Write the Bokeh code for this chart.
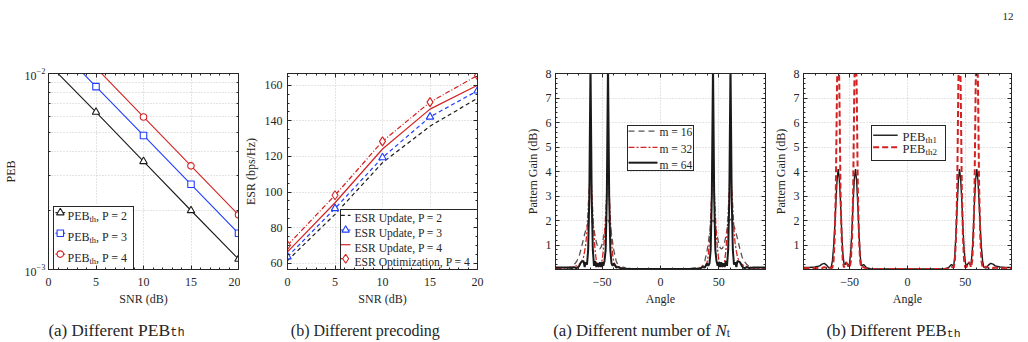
from bokeh.plotting import figure
from bokeh.layouts import row, column
from bokeh.models import (FixedTicker, CustomJSTickFormatter, Label, LinearAxis, LogAxis,
                          Legend, LegendItem)
from bokeh.embed import file_html
from bokeh.resources import INLINE

# ---------------- data ----------------
snr_db = [0, 5, 10, 15, 20]

# positioning error bound vs SNR
peb_p2 = [1.12e-2, 6.35e-3, 3.56e-3, 2.00e-3, 1.13e-3]
peb_p3 = [1.52e-2, 8.57e-3, 4.83e-3, 2.72e-3, 1.53e-3]
peb_p4 = [1.90e-2, 1.07e-2, 6.00e-3, 3.38e-3, 1.90e-3]

# effective sum rate vs SNR
esr_update_p2 = [61.5, 87.5, 116.5, 137.0, 152.7]
esr_update_p3 = [63.7, 90.8, 119.4, 142.2, 156.9]
esr_update_p4 = [66.4, 94.0, 124.2, 146.6, 160.0]
esr_opt_p4 = [70.1, 98.2, 128.5, 150.5, 165.5]

# beam pattern samples
angle_deg = [-90, -85, -80, -76, -74, -72, -70, -68, -66,
             -65, -64, -63, -62, -61, -60, -59, -58, -57, -56,
             -55, -54, -53, -52, -51, -50, -49, -48, -47, -46,
             -45, -44, -43, -42, -41, -40,
             -38, -36, -34, -32, -30, -25, -20, -10, 0,
             10, 20, 25, 30, 32, 34, 36, 38,
             40, 41, 42, 43, 44, 45,
             46, 47, 48, 49, 50, 51, 52, 53, 54, 55,
             56, 57, 58, 59, 60, 61, 62, 63, 64, 65,
             66, 68, 70, 72, 74, 76, 80, 85, 90]

gain_m16 = [0.05, 0.05, 0.08, 0.12, 0.2, 0.32, 0.5, 0.85, 1.25,
            1.45, 1.62, 1.78, 1.92, 2.02, 2.05, 2.0, 1.85, 1.62, 1.35,
            1.12, 0.95, 0.86, 0.84, 0.9, 1.05, 1.28, 1.55, 1.78, 1.95,
            2.02, 1.95, 1.75, 1.45, 1.1, 0.78,
            0.35, 0.12, 0.06, 0.1, 0.07, 0.03, 0.02, 0.02, 0.02,
            0.02, 0.02, 0.03, 0.07, 0.1, 0.06, 0.12, 0.35,
            0.78, 1.1, 1.45, 1.75, 1.95, 2.02,
            1.95, 1.78, 1.55, 1.28, 1.05, 0.9, 0.84, 0.86, 0.95, 1.12,
            1.35, 1.62, 1.85, 2.0, 2.05, 2.02, 1.92, 1.78, 1.62, 1.45,
            1.25, 0.85, 0.5, 0.32, 0.2, 0.12, 0.08, 0.05, 0.05]

gain_m32 = [0.05, 0.05, 0.06, 0.1, 0.12, 0.15, 0.2, 0.3, 0.5,
            0.75, 1.05, 1.6, 2.5, 3.4, 4.05, 3.3, 2.3, 1.4, 0.75,
            0.35, 0.18, 0.1, 0.15, 0.22, 0.4, 0.75, 1.35, 2.25, 3.3,
            4.05, 3.2, 2.1, 1.2, 0.6, 0.3,
            0.12, 0.15, 0.06, 0.05, 0.03, 0.02, 0.02, 0.02, 0.02,
            0.02, 0.02, 0.02, 0.03, 0.05, 0.06, 0.15, 0.12,
            0.3, 0.6, 1.2, 2.1, 3.2, 4.05,
            3.3, 2.25, 1.35, 0.75, 0.4, 0.22, 0.15, 0.1, 0.18, 0.35,
            0.75, 1.4, 2.3, 3.3, 4.05, 3.4, 2.5, 1.6, 1.05, 0.75,
            0.5, 0.3, 0.2, 0.15, 0.12, 0.1, 0.06, 0.05, 0.05]

gain_m64 = [0.08, 0.08, 0.08, 0.06, 0.1, 0.05, 0.12, 0.3, 0.35,
            0.1, 0.3, 0.2, 0.8, 3.0, 8.4, 3.0, 0.8, 0.15, 0.35,
            0.1, 0.25, 0.12, 0.3, 0.1, 0.3, 0.15, 0.35, 0.8, 3.0,
            8.4, 3.0, 0.8, 0.25, 0.15, 0.25,
            0.08, 0.1, 0.04, 0.03, 0.03, 0.02, 0.02, 0.02, 0.02,
            0.02, 0.02, 0.02, 0.03, 0.03, 0.04, 0.1, 0.08,
            0.25, 0.15, 0.25, 0.8, 3.0, 8.4,
            3.0, 0.8, 0.35, 0.15, 0.3, 0.1, 0.3, 0.12, 0.25, 0.1,
            0.35, 0.15, 0.8, 3.0, 8.4, 3.0, 0.8, 0.2, 0.3, 0.1,
            0.35, 0.3, 0.12, 0.05, 0.1, 0.06, 0.08, 0.08, 0.08]

gain_peb_th1 = [0.08, 0.08, 0.1, 0.15, 0.22, 0.25, 0.18, 0.06, 0.1,
                0.35, 0.9, 1.7, 2.7, 3.6, 4.1, 3.7, 2.8, 1.6, 0.7,
                0.25, 0.2, 0.28, 0.22, 0.12, 0.3, 0.8, 1.7, 2.8, 3.7,
                4.1, 3.6, 2.6, 1.5, 0.6, 0.15,
                0.2, 0.1, 0.05, 0.03, 0.02, 0.02, 0.02, 0.02, 0.02,
                0.02, 0.02, 0.02, 0.02, 0.03, 0.05, 0.1, 0.2,
                0.15, 0.6, 1.5, 2.6, 3.6, 4.1,
                3.7, 2.8, 1.7, 0.8, 0.3, 0.12, 0.22, 0.28, 0.2, 0.25,
                0.7, 1.6, 2.8, 3.7, 4.1, 3.6, 2.7, 1.7, 0.9, 0.35,
                0.1, 0.06, 0.18, 0.25, 0.22, 0.15, 0.1, 0.08, 0.08]

gain_peb_th2 = [0.05, 0.06, 0.05, 0.08, 0.06, 0.1, 0.06, 0.12, 0.05,
                0.08, 0.35, 1.3, 3.3, 7.5, 10.0, 7.5, 3.3, 1.3, 0.35,
                0.08, 0.25, 0.3, 0.2, 0.1, 0.08, 0.35, 1.3, 3.3, 7.5,
                10.0, 7.5, 3.3, 1.3, 0.35, 0.08,
                0.1, 0.05, 0.03, 0.02, 0.02, 0.02, 0.02, 0.02, 0.02,
                0.02, 0.02, 0.02, 0.02, 0.02, 0.03, 0.05, 0.1,
                0.08, 0.35, 1.3, 3.3, 7.5, 10.0,
                7.5, 3.3, 1.3, 0.35, 0.08, 0.1, 0.2, 0.3, 0.25, 0.08,
                0.35, 1.3, 3.3, 7.5, 10.0, 7.5, 3.3, 1.3, 0.35, 0.08,
                0.05, 0.12, 0.06, 0.1, 0.06, 0.08, 0.05, 0.06, 0.05]

# ---------------- style ----------------
SERIF = "Liberation Serif"
MONO = "Liberation Mono"
INK = "#262626"
GRID = "#c8c8c8"
BLACK = "#1a1a1a"
BLUE = "#1f3cff"
RED = "#d42222"
GRAY = "#555555"
FS = "12px"

PAGE_W = 1028
TOP_H = 30          # strip holding the page number
CAP_H = 34          # strip holding the sub-captions
PANEL_H = 342 - TOP_H - CAP_H
BORDER_TOP = 43
FRAME_H = 200
BORDER_BOTTOM = PANEL_H - BORDER_TOP - FRAME_H

# Times advance widths (1/1000 em) for laying out mixed-size text
ADV = {' ': 250, '(': 333, ')': 333, ',': 250, '=': 564, '-': 333,
       '0': 500, '1': 500, '2': 500, '3': 500, '4': 500, '6': 500,
       'a': 444, 'b': 500, 'c': 444, 'd': 500, 'e': 444, 'f': 333, 'g': 500,
       'h': 500, 'i': 278, 'm': 778, 'n': 500, 'o': 500, 'p': 500, 'r': 333,
       't': 278, 'u': 500, 'B': 667, 'D': 722, 'E': 611, 'N': 722, 'P': 556}


def text_width(s, size, font=SERIF, style="normal"):
    if font == MONO:
        return 0.6 * size * len(s)
    total = 0
    for ch in s:
        w = ADV.get(ch, 500)
        if style == "italic" and ch == "N":
            w = 667
        total += w
    return total * size / 1000.0


def rich_text(p, x, y, parts, center=False):
    """Place a run of text pieces (text, size, font, style, dy) along one baseline."""
    widths = [text_width(t, s, f, st) for t, s, f, st, dy in parts]
    if center:
        x -= sum(widths) / 2.0
    for (t, s, f, st, dy), w in zip(parts, widths):
        p.add_layout(Label(x=x, y=y + dy, x_units="screen", y_units="screen", text=t,
                           text_font=f, text_font_size=f"{s}px", text_font_style=st,
                           text_color=INK, text_baseline="alphabetic", text_align="left",
                           level="overlay"))
        x += w


def legend_box(p, fx, fy, left, bottom, width, height):
    """Legend panel in frame pixels: white patch below the entries, framed outline."""
    xs = [fx(left), fx(left + width), fx(left + width), fx(left)]
    ys = [fy(bottom), fy(bottom), fy(bottom + height), fy(bottom + height)]
    p.patch(xs, ys, fill_color="white", fill_alpha=1.0, line_color=None)
    holder = p.line(x=[], y=[], line_alpha=0)
    frame = Legend(items=[LegendItem(label=" ", renderers=[holder])],
                   location=(left, bottom - 5), padding=0, spacing=0, margin=0,
                   glyph_width=width - 1, glyph_height=height - 1,
                   label_width=0, label_height=0, label_standoff=0,
                   label_text_font_size="1px",
                   border_line_color=INK, border_line_width=1, border_line_alpha=1.0,
                   background_fill_alpha=0.0)
    p.add_layout(frame)


def style_axis(ax, standoff, label_standoff):
    ax.major_tick_in = 4
    ax.major_tick_out = 0
    ax.minor_tick_in = 2
    ax.minor_tick_out = 0
    ax.axis_line_color = INK
    ax.major_tick_line_color = INK
    ax.minor_tick_line_color = INK
    ax.major_label_text_font = SERIF
    ax.major_label_text_font_size = FS
    ax.major_label_text_color = INK
    ax.major_label_standoff = standoff
    ax.axis_label_text_font = SERIF
    ax.axis_label_text_font_size = FS
    ax.axis_label_text_font_style = "normal"
    ax.axis_label_text_color = INK
    ax.axis_label_standoff = label_standoff


def box_axes(p, xticker, yticker, log_y=False):
    blank = CustomJSTickFormatter(code="return ''")
    top = LinearAxis(ticker=xticker, formatter=blank)
    right = (LogAxis if log_y else LinearAxis)(ticker=yticker, formatter=blank)
    for ax in (top, right):
        ax.major_tick_in = 4
        ax.major_tick_out = 0
        ax.minor_tick_in = 2
        ax.minor_tick_out = 0
        ax.major_label_standoff = 0
        ax.major_label_text_font_size = "0px"
        ax.axis_line_color = INK
        ax.major_tick_line_color = INK
        ax.minor_tick_line_color = INK
    p.add_layout(top, "above")
    p.add_layout(right, "right")


def make_fig(width, left, right, x_range, y_range, **kw):
    p = figure(width=width, height=PANEL_H, x_range=x_range, y_range=y_range,
               min_border_left=left, min_border_right=right,
               min_border_top=BORDER_TOP, min_border_bottom=BORDER_BOTTOM,
               output_backend="svg", toolbar_location=None, **kw)
    p.outline_line_color = INK
    p.background_fill_color = "white"
    p.border_fill_color = "white"
    p.grid.grid_line_color = GRID
    p.grid.grid_line_dash = "1 2"
    return p


def text_strip(height):
    s = figure(width=PAGE_W, height=height, x_range=(0, PAGE_W), y_range=(0, height),
               min_border=0, x_axis_location=None, y_axis_location=None,
               output_backend="svg", toolbar_location=None)
    s.outline_line_color = None
    s.grid.visible = False
    s.background_fill_color = "white"
    s.border_fill_color = "white"
    return s


# ================= (a) PEB vs SNR =================
W1, L1, R1 = 240, 45, 2
FW1 = W1 - L1 - R1
p1 = make_fig(W1, L1, R1, (0, 20), (1e-3, 1e-2), y_axis_type="log")
snr_ticker = FixedTicker(ticks=[0, 5, 10, 15, 20], minor_ticks=list(range(0, 21)))
peb_ticker = FixedTicker(ticks=[1e-3, 1e-2], minor_ticks=[k * 1e-3 for k in range(2, 10)])
p1.xaxis.ticker = snr_ticker
p1.xgrid.ticker = snr_ticker
p1.yaxis.ticker = peb_ticker
p1.ygrid.ticker = peb_ticker
p1.ygrid.minor_grid_line_color = GRID
p1.ygrid.minor_grid_line_dash = "1 2"
p1.xaxis.axis_label = "SNR (dB)"
p1.yaxis.axis_label = "PEB"
style_axis(p1.xaxis[0], 8, 3)
style_axis(p1.yaxis[0], 3, 4)
box_axes(p1, snr_ticker, peb_ticker, log_y=True)

peb_series = [(peb_p2, BLACK, "triangle", "2"),
              (peb_p3, BLUE, "square", "3"),
              (peb_p4, RED, "circle", "4")]
for vals, col, mk, _ in peb_series:
    p1.line(snr_db, vals, line_color=col, line_width=1.1)
    p1.scatter(snr_db, vals, marker=mk, size=6.5 if mk != "triangle" else 7.5,
               line_color=col, fill_color="white", line_width=1.1)


def x1(px):
    return px / FW1 * 20.0


def y1(py):
    return 10 ** (-3 + py / FRAME_H)


legend_box(p1, x1, y1, 5, 3, 80, 64)
for (vals, col, mk, pval), ry in zip(peb_series, (58.0, 37.0, 15.7)):
    p1.line([x1(7), x1(17)], [y1(ry), y1(ry)], line_color=col, line_width=1.1, level="overlay")
    p1.scatter([x1(12)], [y1(ry)], marker=mk, size=6.5 if mk != "triangle" else 7.5,
               line_color=col, fill_color="white", line_width=1.1, level="overlay")
    rich_text(p1, 19, ry - 4, [("PEB", 12, SERIF, "normal", 0),
                               ("th", 8.5, SERIF, "normal", -3),
                               (f", P = {pval}", 12, SERIF, "normal", 0)])

# ================= (b) ESR vs SNR =================
W2, L2, R2 = 268, 41, 31
FW2 = W2 - L2 - R2
ESR_LO, ESR_HI = 56.5, 166.6
p2 = make_fig(W2, L2, R2, (0, 20), (ESR_LO, ESR_HI))
esr_ticker = FixedTicker(ticks=[60, 80, 100, 120, 140, 160], minor_ticks=list(range(60, 166, 5)))
p2.xaxis.ticker = snr_ticker
p2.xgrid.ticker = snr_ticker
p2.yaxis.ticker = esr_ticker
p2.ygrid.ticker = esr_ticker
p2.xaxis.axis_label = "SNR (dB)"
p2.yaxis.axis_label = "ESR (bps/Hz)"
style_axis(p2.xaxis[0], 8, 3)
style_axis(p2.yaxis[0], 5, 4)
box_axes(p2, snr_ticker, esr_ticker)

esr_series = [(esr_update_p2, BLACK, "4 3", None, "ESR Update, P = 2"),
              (esr_update_p3, BLUE, "4 3", "triangle", "ESR Update, P = 3"),
              (esr_update_p4, RED, "solid", None, "ESR Update, P = 4"),
              (esr_opt_p4, RED, "5 2 1 2", "diamond", "ESR Optimization, P = 4")]
for vals, col, dash, mk, _ in esr_series:
    p2.line(snr_db, vals, line_color=col, line_width=1.2, line_dash=dash)
    if mk:
        p2.scatter(snr_db, vals, marker=mk, size=7.5 if mk == "triangle" else 9,
                   line_color=col, fill_color="white", line_width=1.1)


def x2(px):
    return px / FW2 * 20.0


def y2(py):
    return ESR_LO + py / FRAME_H * (ESR_HI - ESR_LO)


legend_box(p2, x2, y2, 53, 4, 140, 60)
for (vals, col, dash, mk, lab), ry in zip(esr_series, (55.3, 40.3, 25.3, 11.0)):
    p2.line([x2(55), x2(65)], [y2(ry), y2(ry)], line_color=col, line_width=1.2,
            line_dash=dash, level="overlay")
    if mk:
        p2.scatter([x2(60)], [y2(ry)], marker=mk, size=7.5 if mk == "triangle" else 9,
                   line_color=col, fill_color="white", line_width=1.1, level="overlay")
    rich_text(p2, 67, ry - 4, [(lab, 11.6, SERIF, "normal", 0)])

# ================= (a) beam pattern vs number of antennas =================
ang_ticker = FixedTicker(ticks=[-50, 0, 50], minor_ticks=list(range(-90, 91, 10)))
gain_ticker = FixedTicker(ticks=[1, 2, 3, 4, 5, 6, 7, 8],
                          minor_ticks=[k * 0.2 for k in range(0, 41)])

W3, L3, R3 = 262, 47, 5
FW3 = W3 - L3 - R3
p3 = make_fig(W3, L3, R3, (-90, 90), (0, 8))
p3.xaxis.ticker = ang_ticker
p3.xgrid.ticker = ang_ticker
p3.yaxis.ticker = gain_ticker
p3.ygrid.ticker = gain_ticker
p3.xaxis.axis_label = "Angle"
p3.yaxis.axis_label = "Pattern Gain (dB)"
style_axis(p3.xaxis[0], 8, 3)
style_axis(p3.yaxis[0], 4, 3)
box_axes(p3, ang_ticker, gain_ticker)

beam_series = [(gain_m16, GRAY, 1.3, "6 4", "m = 16"),
               (gain_m32, RED, 1.3, "6 2 2 2", "m = 32"),
               (gain_m64, BLACK, 2.0, "solid", "m = 64")]
for vals, col, lw, dash, _ in beam_series:
    p3.line(angle_deg, vals, line_color=col, line_width=lw, line_dash=dash)


def x3(px):
    return -90 + px / FW3 * 180.0


def y3(py):
    return py / FRAME_H * 8.0


legend_box(p3, x3, y3, 72, 103, 66, 45)
for (vals, col, lw, dash, lab), ry in zip(beam_series, (141.3, 124.7, 109.0)):
    p3.line([x3(73), x3(102)], [y3(ry), y3(ry)], line_color=col, line_width=lw,
            line_dash=dash, level="overlay")
    rich_text(p3, 104, ry - 4, [(lab, 11.5, SERIF, "normal", 0)])

# ================= (b) beam pattern vs PEB threshold =================
W4, L4, R4 = 258, 29, 17
FW4 = W4 - L4 - R4
p4 = make_fig(W4, L4, R4, (-90, 90), (0, 8))
p4.xaxis.ticker = ang_ticker
p4.xgrid.ticker = ang_ticker
p4.yaxis.ticker = gain_ticker
p4.ygrid.ticker = gain_ticker
p4.xaxis.axis_label = "Angle"
p4.yaxis.axis_label = "Pattern Gain (dB)"
style_axis(p4.xaxis[0], 8, 3)
style_axis(p4.yaxis[0], 4, 3)
box_axes(p4, ang_ticker, gain_ticker)

p4.line(angle_deg, gain_peb_th1, line_color=BLACK, line_width=1.4)
p4.line(angle_deg, gain_peb_th2, line_color=RED, line_width=2.0, line_dash="6 3")


def x4(px):
    return -90 + px / FW4 * 180.0


def y4(py):
    return py / FRAME_H * 8.0


legend_box(p4, x4, y4, 68, 113, 74, 35)
for ry, col, width, dash, sub in ((137.0, BLACK, 1.4, "solid", "th1"),
                                  (124.7, RED, 2.0, "6 3", "th2")):
    p4.line([x4(71), x4(96)], [y4(ry), y4(ry)], line_color=col, line_width=width,
            line_dash=dash, level="overlay")
    rich_text(p4, 99, ry - 4, [("PEB", 12.5, SERIF, "normal", 0),
                               (sub, 9, SERIF, "normal", -3)])

# ================= page number and sub-captions =================
top_strip = text_strip(TOP_H)
top_strip.add_layout(Label(x=1013, y=14, x_units="screen", y_units="screen", text="12",
                           text_font=SERIF, text_font_size="11px", text_color=INK,
                           text_align="right", text_baseline="alphabetic"))

cap = text_strip(CAP_H)
CAP_Y = 12.5
rich_text(cap, 116, CAP_Y, [("(a) Different ", 17, SERIF, "normal", 0),
                            ("PEB", 17.5, SERIF, "normal", 0),
                            ("th", 12, MONO, "normal", -3)], center=True)
rich_text(cap, 365, CAP_Y, [("(b) Different precoding", 16, SERIF, "normal", 0)], center=True)
rich_text(cap, 641, CAP_Y, [("(a) Different number of ", 16.8, SERIF, "normal", 0),
                            ("N", 16.8, SERIF, "italic", 0),
                            ("t", 11.5, SERIF, "normal", -3)], center=True)
rich_text(cap, 893, CAP_Y, [("(b) Different ", 16.8, SERIF, "normal", 0),
                            ("PEB", 16.8, SERIF, "normal", 0),
                            ("th", 11.5, MONO, "normal", -3)], center=True)

layout = column(top_strip, row(p1, p2, p3, p4, spacing=0), cap, spacing=0)
open("out.html", "w").write(file_html(layout, INLINE))
